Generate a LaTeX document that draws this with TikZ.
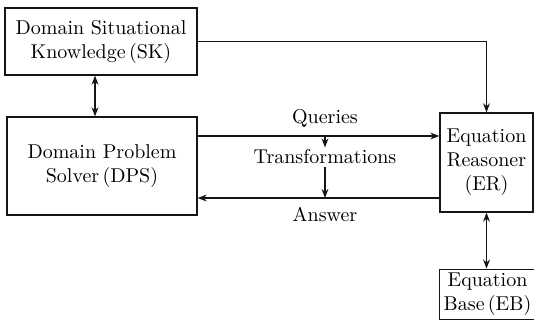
\documentclass[tikz,border=0pt]{standalone}
\usepackage{xcolor}
\usepackage{tikz}
\usetikzlibrary{calc,arrows.meta,positioning}
\definecolor{linec}{HTML}{151515}
\tikzset{
  ar/.style={-{Stealth[length=1.6mm,width=1.2mm]},line width=0.6pt,linec},
  dar/.style={{Stealth[length=1.6mm,width=1.2mm]}-{Stealth[length=1.6mm,width=1.2mm]},line width=0.6pt,linec},
  box/.style={draw=linec,line width=0.6pt,align=center,inner sep=2pt,font=\normalsize},
  lbl/.style={font=\normalsize,inner sep=1pt}
}
\begin{document}
\begin{tikzpicture}[x=0.5pt,y=-0.5pt]
\useasboundingbox (0,0) rectangle (534,322);
% blocks
\node[box,minimum width=96pt,minimum height=33.5pt] (sk) at (101,41.5) {Domain Situational\\Knowledge\,(SK)};
\node[box,minimum width=95pt,minimum height=49pt] (dps) at (102,166) {Domain Problem\\Solver\,(DPS)};
\node[box,minimum width=46.5pt,minimum height=49.5pt] (er) at (486.5,162.5) {Equation\\Reasoner\\(ER)};
\node[box,minimum width=45.5pt,minimum height=22.5pt] (eb) at (487.5,294.5) {Equation\\Base\,(EB)};
% labels between DPS and ER
\node[lbl] (qu) at (325,118) {Queries};
\node[lbl] (tr) at (325,157) {Transformations};
\node[lbl] (an) at (325,214) {Answer};
\coordinate (qy) at ([yshift=15pt]dps.east);
\coordinate (ay) at ([yshift=-16pt]dps.east);
% connectors
\draw[dar] (sk.south -| 95,0) -- (dps.north -| 95,0);
\draw[ar] (sk.east) -| (er.north);
\draw[ar] (qy) -- (qy -| er.west);
\draw[ar] (ay -| er.west) -- (ay);
\draw[ar] (qy -| tr.north) -- (tr.north);
\draw[ar] (tr.south) -- (ay -| tr.south);
\draw[dar] (er.south) -- (er.south |- eb.north);
\end{tikzpicture}
\end{document}
